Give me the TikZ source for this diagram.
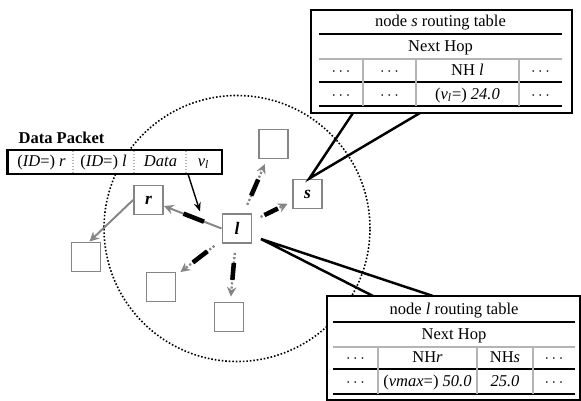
\documentclass[tikz,border=0pt]{standalone}
\usepackage{fontspec}
\setmainfont{Liberation Serif}
\usetikzlibrary{arrows.meta,calc,positioning}
\definecolor{hostgray}{HTML}{858585}
\definecolor{rulegray}{HTML}{B4B4B4}
\tikzset{
  hostbox/.style={draw=hostgray, fill=white, line width=1.1pt,
    minimum size=.58cm, inner sep=0pt, font=\bfseries\itshape},
  tablebox/.style={draw=black, fill=white, line width=1.7pt, inner sep=0pt},
  tabcell/.style={inner sep=0pt, text height=.68em, text depth=.22em},
  blackrule/.style={draw=black, line width=1.1pt},
  grayrule/.style={draw=rulegray, line width=.6pt},
  fieldline/.style={draw=rulegray, line width=.7pt,
    dash pattern=on .7pt off 1pt},
  rangeline/.style={draw=black, line width=.9pt,
    dash pattern=on .9pt off 1.1pt},
  hopflow/.style={-{Stealth[length=1.9mm, width=1.9mm]}, draw=hostgray,
    line width=1.3pt, dash pattern=on 1.2pt off 1.2pt,
    shorten <=.18cm, shorten >=.1cm},
  sendflow/.style={-{Stealth[length=1.9mm, width=1.9mm]}, draw=hostgray,
    line width=1.1pt},
  hopmark/.style={draw=black, line width=2.6pt},
  pktflow/.style={-{Stealth[length=1.8mm, width=1.4mm]}, draw=black,
    line width=.8pt},
  callout/.style={draw=black, line width=1.4pt}
}

\begin{document}
\begin{tikzpicture}[x=1cm,y=1cm, font=\fontsize{9.4}{11}\selectfont]
  \useasboundingbox (0,0) rectangle (11.62,8.02);

  % radio range of l
  \node[hostbox] (l) at (4.74,3.45) {l};
  \draw[rangeline] (l.center) circle (2.66);

  \node[hostbox] (r) at (2.97,4.02) {r};
  \node[hostbox] (s) at (6.15,4.14) {s};
  \node[hostbox] (ntop) at (5.47,5.14) {};
  \node[hostbox] (nleft) at (3.22,2.28) {};
  \node[hostbox] (nlow) at (4.58,1.68) {};
  \node[hostbox] (far) at (1.72,2.88) {};

  % forwarding from l
  \foreach \n in {ntop,s,nleft,nlow} {
    \draw[hopflow] (l) -- (\n);
    \draw[hopmark] ($(l)!.39!(\n)$) -- ($(l)!.58!(\n)$);
  }
  \draw[sendflow] (l.west) -- (r);
  \draw[hopmark] ($(l.west)!.24!(r)$) -- ($(l.west)!.52!(r)$);
  \draw[sendflow] (r.west) -- ([xshift=2pt]far.north);

  % data packet
  \node[tablebox, minimum width=4.29cm, minimum height=.48cm]
    (packet) at (2.295,4.78) {};
  \node[font=\fontsize{9.4}{11}\selectfont\bfseries] (pkttitle)
    at (1.23,5.27) {Data Packet};
  \foreach \x in {1.46,2.68,3.72}
    \draw[fieldline] (\x,4.56) -- (\x,5.0);
  \node[tabcell] (fsrc) at (0.83,4.78) {(\textit{ID}=) \textit{r}};
  \node[tabcell] (fhop) at (2.07,4.78) {(\textit{ID}=) \textit{l}};
  \node[tabcell] (fdata) at (3.21,4.78) {\textit{Data}};
  \node[tabcell] (fval) at (4.07,4.78) {\textit{v\textsubscript{l}}};
  \coordinate (pktout) at (3.76,4.54);
  \coordinate (pktin) at (4.0,3.79);
  \draw[pktflow] (pktout) -- (pktin);

  % routing table of s
  \node[tablebox, minimum width=5.22cm, minimum height=2.06cm]
    (stable) at (8.83,6.79) {};
  \draw[blackrule] (6.38,7.34) -- (11.24,7.34);
  \draw[grayrule] (6.38,6.84) -- (11.24,6.84);
  \draw[blackrule] (6.38,6.38) -- (11.24,6.38);
  \draw[blackrule] (6.38,5.9) -- (11.24,5.9);
  \foreach \x in {7.26,8.32,10.38}
    \draw[grayrule] (\x,6.84) -- (\x,5.9);
  \node[tabcell] (stitle) at (8.81,7.57) {node \textit{s} routing table};
  \node[tabcell] (snext) at (8.81,7.07) {Next Hop};
  \foreach \x/\txt [count=\i] in {6.82/{$\cdots$}, 7.79/{$\cdots$},
      9.35/{NH \textit{l}}, 10.81/{$\cdots$}}
    \node[tabcell] (sa\i) at (\x,6.59) {\txt};
  \foreach \x/\txt [count=\i] in {6.82/{$\cdots$}, 7.79/{$\cdots$},
      9.35/{(\textit{v\textsubscript{l}}=) \textit{24.0}}, 10.81/{$\cdots$}}
    \node[tabcell] (sb\i) at (\x,6.12) {\txt};
  \coordinate (sbasea) at (7.06,5.76);
  \coordinate (sbaseb) at (8.4,5.76);
  \draw[callout] (sbasea) -- ([xshift=1pt]s.north) -- (sbaseb);

  % routing table of l
  \node[tablebox, minimum width=5.06cm, minimum height=2.08cm]
    (ltable) at (9.07,1.06) {};
  \draw[blackrule] (6.66,1.58) -- (11.5,1.58);
  \draw[grayrule] (6.66,1.08) -- (11.5,1.08);
  \draw[blackrule] (6.66,0.64) -- (11.5,0.64);
  \draw[blackrule] (6.66,0.14) -- (11.5,0.14);
  \foreach \x in {7.56,9.54,10.66}
    \draw[grayrule] (\x,1.08) -- (\x,0.14);
  \node[tabcell] (ltitle) at (9.08,1.81) {node \textit{l} routing table};
  \node[tabcell] (lnext) at (9.08,1.31) {Next Hop};
  \foreach \x/\txt [count=\i] in {7.11/{$\cdots$}, 8.55/{NH\textit{r}},
      10.1/{NH\textit{s}}, 11.08/{$\cdots$}}
    \node[tabcell] (la\i) at (\x,0.85) {\txt};
  \foreach \x/\txt [count=\i] in {7.11/{$\cdots$},
      8.55/{(\textit{vmax}=) \textit{50.0}}, 10.1/{\textit{25.0}},
      11.08/{$\cdots$}}
    \node[tabcell] (lb\i) at (\x,0.38) {\txt};
  \coordinate (ltip) at (5.22,3.24);
  \coordinate (lbasea) at (7.46,2.1);
  \coordinate (lbaseb) at (8.66,2.1);
  \draw[callout] (lbasea) -- (ltip) -- (lbaseb);
\end{tikzpicture}
\end{document}
